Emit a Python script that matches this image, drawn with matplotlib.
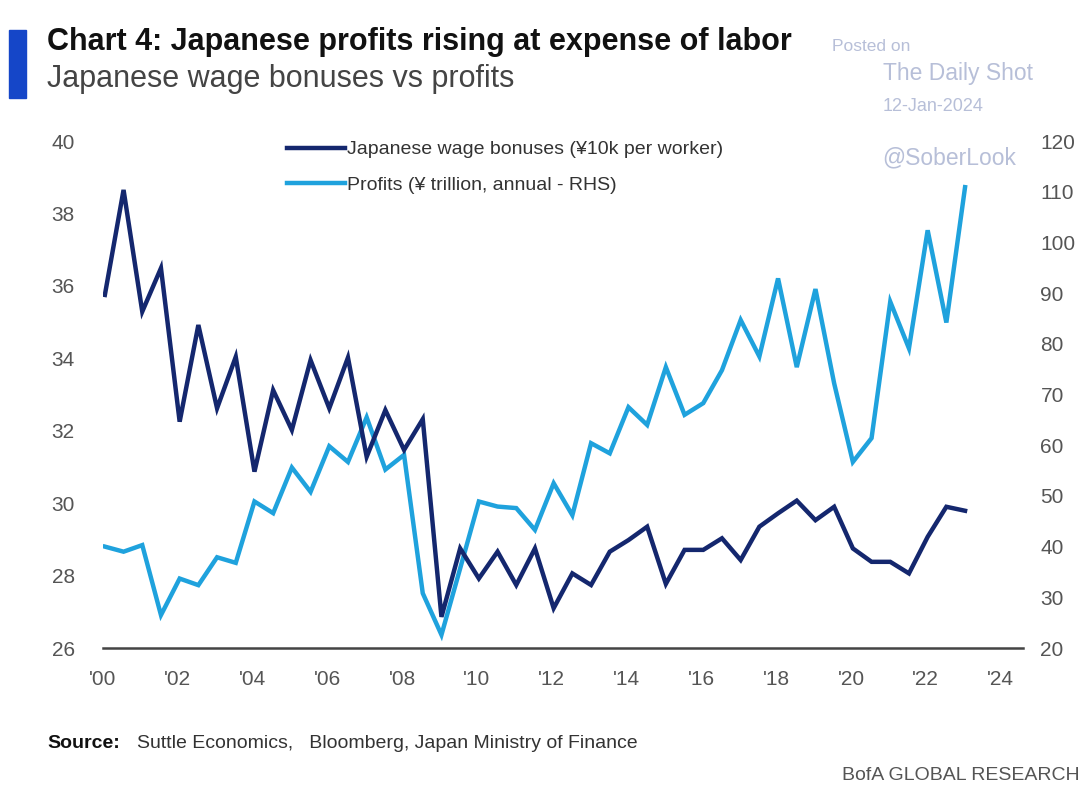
import numpy as np
import matplotlib
matplotlib.use("Agg")
import matplotlib.pyplot as plt

plt.rcParams['font.family'] = ['Liberation Sans', 'DejaVu Sans']

# half-yearly observations, 2000H1 .. 2023H1
bonuses = [35.75, 38.65, 35.29, 36.49, 32.25, 34.92, 32.62, 34.04, 30.87, 33.12,
           32.02, 33.95, 32.62, 34.02, 31.28, 32.57, 31.47, 32.32, 26.86, 28.75,
           27.92, 28.66, 27.74, 28.75, 27.10, 28.06, 27.74, 28.66, 28.98, 29.35,
           27.77, 28.71, 28.71, 29.03, 28.43, 29.35, 29.72, 30.07, 29.53, 29.90,
           28.75, 28.38, 28.38, 28.06, 29.07, 29.90, 29.79]
profits = [40.0, 39.0, 40.3, 26.5, 33.7, 32.4, 37.9, 36.8, 48.9, 46.6,
           55.6, 50.8, 59.8, 56.7, 65.5, 55.2, 58.1, 30.8, 22.6, 35.7,
           48.9, 47.9, 47.6, 43.3, 52.5, 46.2, 60.4, 58.4, 67.5, 64.0,
           75.4, 66.0, 68.3, 74.8, 84.7, 77.5, 92.9, 75.4, 90.8, 72.2,
           56.7, 61.4, 88.3, 79.1, 102.4, 84.2, 110.9]
periods = 2000.05 + 0.5 * np.arange(len(bonuses))

year_ticks = list(range(2000, 2025, 2))
year_labels = ["'%02d" % (y % 100) for y in year_ticks]
left_ticks = [26, 28, 30, 32, 34, 36, 38, 40]
right_ticks = [20, 30, 40, 50, 60, 70, 80, 90, 100, 110, 120]

navy = "#14276e"
sky = "#1fa2dd"
grey = "#555555"

fig = plt.figure(figsize=(10.91, 7.87), dpi=100)
ax = fig.add_axes([0.0944, 0.1766, 0.8433, 0.6442])
ax2 = ax.twinx()

l1, = ax.plot(periods, bonuses, color=navy, lw=3.2, solid_joinstyle="miter",
              label="Japanese wage bonuses (¥10k per worker)", zorder=3)
l2, = ax2.plot(periods, profits, color=sky, lw=3.2, solid_joinstyle="miter",
               label="Profits (¥ trillion, annual - RHS)", zorder=2)
ax.set_zorder(ax2.get_zorder() + 1)
ax.patch.set_visible(False)

ax.set_xlim(2000, 2024.6)
ax.set_ylim(26, 40)
ax2.set_ylim(20, 120)
ax.set_xticks(year_ticks)
ax.set_xticklabels(year_labels)
ax.set_yticks(left_ticks)
ax2.set_yticks(right_ticks)

for a in (ax, ax2):
    for s in a.spines.values():
        s.set_visible(False)
    a.tick_params(length=0, labelsize=15, labelcolor=grey)
ax.spines["bottom"].set_visible(True)
ax.spines["bottom"].set_color("#444444")
ax.spines["bottom"].set_linewidth(1.8)
ax.tick_params(axis="x", pad=16)
ax.tick_params(axis="y", pad=37)
ax2.tick_params(axis="y", pad=12.5)
for t in ax.get_yticklabels():
    t.set_horizontalalignment("left")
for t in ax2.get_yticklabels():
    t.set_horizontalalignment("left")

leg = ax.legend(handles=[l1, l2], loc="upper left", bbox_to_anchor=(0.181, 1.035),
                frameon=False, fontsize=14, handlelength=3.0, handletextpad=0.1,
                labelspacing=0.9, labelcolor="#333333")

# header
fig.patches.append(plt.Rectangle((0.008, 0.875), 0.016, 0.087, color="#1546c8",
                                 transform=fig.transFigure, figure=fig))
fig.text(0.043, 0.946, "Chart 4: Japanese profits rising at expense of labor",
         fontsize=22, fontweight="bold", color="#111111", va="center")
fig.text(0.043, 0.899, "Japanese wage bonuses vs profits", fontsize=22,
         color="#444444", va="center")

# watermark
wm = "#b7bfd8"
fig.text(0.763, 0.941, "Posted on", fontsize=12.5, color=wm, va="center")
fig.text(0.809, 0.906, "The Daily Shot", fontsize=16.5, color=wm, va="center")
fig.text(0.809, 0.865, "12-Jan-2024", fontsize=13, color=wm, va="center")
fig.text(0.809, 0.799, "@SoberLook", fontsize=16.5, color=wm, va="center")

# footer
fig.text(0.043, 0.055, "Source:", fontsize=14, fontweight="bold", color="#111111",
         va="center")
fig.text(0.126, 0.055, "Suttle Economics,   Bloomberg, Japan Ministry of Finance",
         fontsize=14, color="#333333", va="center")
fig.text(0.99, 0.015, "BofA GLOBAL RESEARCH", fontsize=14, color="#555555",
         ha="right", va="center")

fig.savefig("out.png", dpi=100, facecolor="white")
